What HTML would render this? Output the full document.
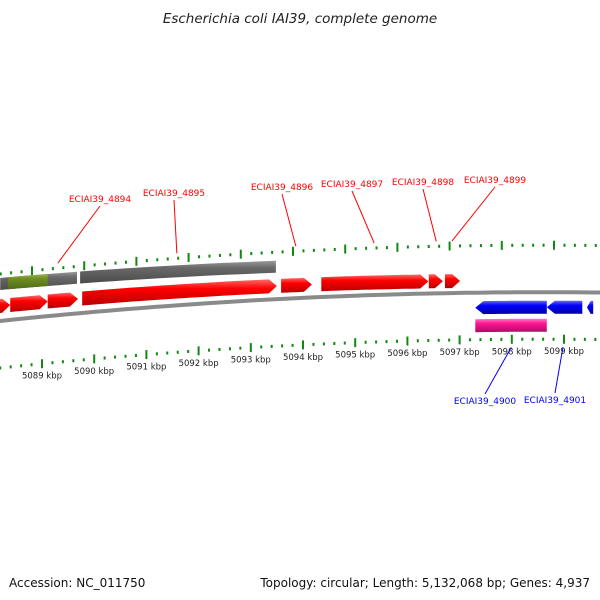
<!DOCTYPE html>
<html><head><meta charset="utf-8"><style>
body{margin:0;background:#fff}
svg{display:block;font-family:"DejaVu Sans","Liberation Sans",sans-serif}
</style></head><body>
<svg id="c" width="600" height="600" viewBox="0 0 600 600">
<defs>
<linearGradient id="gr" x1="0" y1="0" x2="0" y2="1"><stop offset="0" stop-color="#ff6a6a"/><stop offset="0.35" stop-color="#ff0000"/><stop offset="1" stop-color="#b80000"/></linearGradient>
<linearGradient id="gb" x1="0" y1="0" x2="0" y2="1"><stop offset="0" stop-color="#6a6aff"/><stop offset="0.35" stop-color="#0000ff"/><stop offset="1" stop-color="#0000a0"/></linearGradient>
<linearGradient id="gp" x1="0" y1="0" x2="0" y2="1"><stop offset="0" stop-color="#ff7ac0"/><stop offset="0.35" stop-color="#ff1493"/><stop offset="1" stop-color="#b00a66"/></linearGradient>
<linearGradient id="gg" x1="0" y1="0" x2="0" y2="1"><stop offset="0" stop-color="#9a9a9a"/><stop offset="0.3" stop-color="#6a6a6a"/><stop offset="1" stop-color="#4a4a4a"/></linearGradient>
<linearGradient id="go" x1="0" y1="0" x2="0" y2="1"><stop offset="0" stop-color="#9ab04a"/><stop offset="0.3" stop-color="#6f8f25"/><stop offset="1" stop-color="#4f6a15"/></linearGradient>
</defs>
<text x="300" y="23" text-anchor="middle" font-size="13.5" font-style="italic" fill="#222">Escherichia coli IAI39, complete genome</text>
<text x="9" y="587" font-size="12" fill="#111">Accession: NC_011750</text>
<text x="590" y="587" text-anchor="end" font-size="12" fill="#111">Topology: circular; Length: 5,132,068 bp; Genes: 4,937</text>
<g id="layer"></g>
</svg>
<script>
// data (kbp positions)
const tickStart = 5088.2, tickEnd = 5100.0, tickStep = 0.2;
const axisLabels = [5089,5090,5091,5092,5093,5094,5095,5096,5097,5098,5099];
const fwdGenes = [[5088.0,5088.39],[5088.39,5089.11],[5089.11,5089.69],[5089.77,5093.5],[5093.58,5094.17],[5094.35,5096.4],[5096.41,5096.68],[5096.72,5097.01]];
const greyBlocks = [[5088.2,5089.67],[5089.73,5093.48]];
const olive = [[5088.35,5089.11]];
const revGenes = [[5097.3,5098.67],[5098.67,5099.35],[5099.44,5099.56]];
const pinkBlocks = [[5097.3,5098.67]];
const fwdLabels = [["ECIAI39_4894",5089.38],["ECIAI39_4895",5091.66],["ECIAI39_4896",5093.94],["ECIAI39_4897",5095.44],["ECIAI39_4898",5096.63],["ECIAI39_4899",5096.93]];
const revLabels = [["ECIAI39_4900",5097.99],["ECIAI39_4901",5098.98]];
// label text layout (pixels)
const fwdLabelPos = [[100,202],[174,196],[282,190],[352,187],[423,185],[495,183]];
const revLabelPos = [[485,404],[555,403]];

const NS="http://www.w3.org/2000/svg", L=document.getElementById('layer');
const X = k => 42 + (k-5089)*52.2;
const base = x => 321 - 0.1058*x + 9.72e-5*x*x;
function mk(t,a){const e=document.createElementNS(NS,t);for(const k in a)e.setAttribute(k,a[k]);L.appendChild(e);return e;}
function band(x1,x2,d0,d1,h,fill,dir,name){
  const off=x=>d0+(d1-d0)*x/600; const pts=[],bot=[];const n=12;
  const head=dir?Math.min(8,(x2-x1)*0.6):0;
  const a1=dir<0?x1+head:x1, a2=dir>0?x2-head:x2;
  for(let i=0;i<=n;i++){const x=a1+(a2-a1)*i/n,c=base(x)+off(x);pts.push([x,c-h/2]);bot.unshift([x,c+h/2]);}
  let all=[];
  if(dir<0){const c=base(x1)+off(x1);all.push([x1,c]);}
  all=all.concat(pts);
  if(dir>0){const c=base(x2)+off(x2);all.push([x2,c]);}
  all=all.concat(bot);
  const e=mk('polygon',{points:all.map(p=>p[0].toFixed(1)+','+p[1].toFixed(1)).join(' '),fill:fill});
  
  
}
{let p=[];for(let x=-5;x<=605;x+=10)p.push(x+','+base(x).toFixed(1));
 const e=mk('polyline',{points:p.join(' '),fill:'none',stroke:'#8a8a8a','stroke-width':4});
 
 }
for(let k=tickStart;k<=tickEnd+1e-6;k+=tickStep){
  const major=Math.abs(k-Math.round(k))<1e-6;
  [[-10,-47],[0,47]].forEach(([dx,d],j)=>{
    const x=X(k)+dx,y=base(x)+d;const len=major?9:3;
    const e=mk('rect',{x:x-1,y:y-len/2,width:2,height:len,fill:'#118811'});
    
    
  });
}
axisLabels.forEach(k=>{const x=X(k),y=base(x)+62;
  const e=mk('text',{x:x,y:y,'text-anchor':'middle','font-size':8.5,fill:'#222'});e.textContent=k+' kbp';
  
  });
greyBlocks.forEach(g=>band(X(g[0]),X(g[1]),-37,-27,12,'url(#gg)',0,'grey-feature'));
olive.forEach(g=>band(X(g[0]),X(g[1]),-37,-27,12,'url(#go)',0,'olive-feature'));
fwdGenes.forEach(g=>band(X(g[0]),X(g[1]),-15,-11,14,'url(#gr)',1,'forward-gene'));
revGenes.forEach(g=>band(X(g[0]),X(g[1]),15,15,13,'url(#gb)',-1,'reverse-gene'));
pinkBlocks.forEach(g=>band(X(g[0]),X(g[1]),33,33,13,'url(#gp)',0,'pink-feature'));
fwdLabels.forEach((l,i)=>{const gx=X(l[1])-4, gy=base(gx)-52;
  const tx=fwdLabelPos[i][0], ty=fwdLabelPos[i][1];
  const ln=mk('line',{x1:tx,y1:ty+4,x2:gx,y2:gy,stroke:'#ff0000','stroke-width':1});
  
  
  const t=mk('text',{x:tx,y:ty,'text-anchor':'middle','font-size':9,fill:'#ff0000'});t.textContent=l[0];
  
  });
revLabels.forEach((l,i)=>{const gx=X(l[1]), gy=base(gx)+55;
  const tx=revLabelPos[i][0], ty=revLabelPos[i][1];
  const ln=mk('line',{x1:tx,y1:ty-10,x2:gx,y2:gy,stroke:'#0000ff','stroke-width':1});
  
  
  const t=mk('text',{x:tx,y:ty,'text-anchor':'middle','font-size':9,fill:'#0000ff'});t.textContent=l[0];
  
  });
</script>
</body></html>
